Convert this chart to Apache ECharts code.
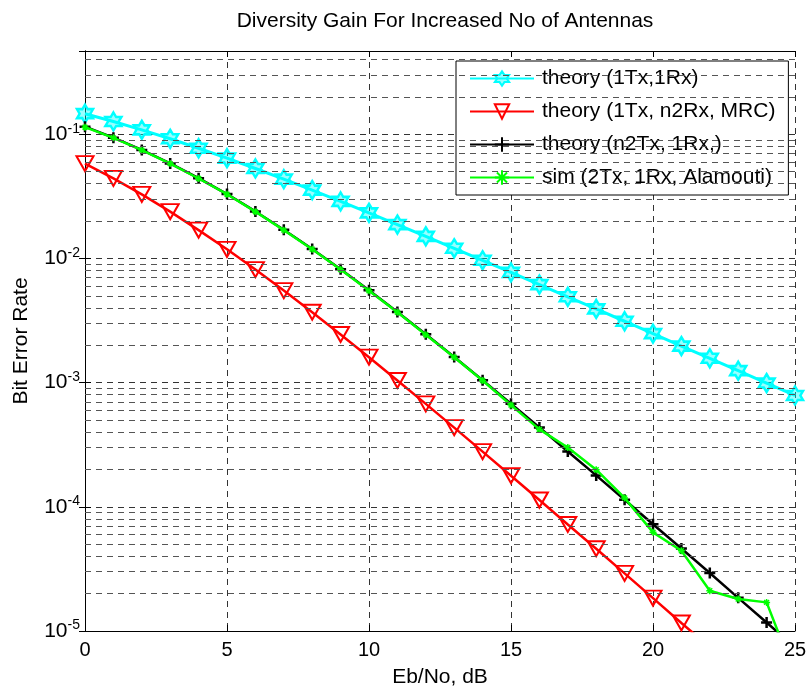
<!DOCTYPE html>
<html>
<head>
<meta charset="utf-8">
<script src="https://cdn.jsdelivr.net/npm/echarts@6/dist/echarts.min.js"></script>
<style>
  html, body { margin: 0; padding: 0; background: #fff; }
  #chart { width: 809px; height: 687px; }
</style>
</head>
<body>
<div id="chart"></div>
<script>
// Eb/No points, dB
const ebno = [0, 1, 2, 3, 4, 5, 6, 7, 8, 9, 10, 11, 12, 13, 14, 15, 16, 17, 18, 19, 20, 21, 22, 23, 24, 25]

// bit error rate
const berTheory1x1 = [0.1464, 0.1267, 0.1085, 0.0919, 0.0771, 0.0642, 0.0530, 0.0435, 0.0355, 0.0288,
  0.0233, 0.01874, 0.01506, 0.01207, 0.00966, 0.00772, 0.00616, 0.00491, 0.00392, 0.00312,
  0.00248, 0.00197, 0.00157, 0.001248, 0.000992, 0.000788]
const berMrc1x2 = [0.0580, 0.0441, 0.0328, 0.0238, 0.0169, 0.01184, 0.00813, 0.00551, 0.00369, 0.00244,
  0.001603, 0.00104, 0.000674, 0.000434, 0.000278, 0.000178, 0.0001134, 0.0000721, 0.000046, 0.0000291,
  0.0000184, 0.0000116, 0.0000074, 0.0000047, 0.000003, 0.0000019]
const berAlamoutiTheory = [0.1151, 0.0939, 0.0748, 0.0582, 0.0443, 0.0330, 0.0239, 0.0170, 0.0119, 0.00817,
  0.00554, 0.00371, 0.00245, 0.00161, 0.001045, 0.000677, 0.000436, 0.000279, 0.000179, 0.0001139,
  0.0000724, 0.0000462, 0.0000293, 0.0000185, 0.0000117, 0.0000074]
const berAlamoutiSim = [0.1140, 0.0935, 0.0745, 0.0580, 0.0440, 0.0329, 0.0238, 0.0169, 0.01185, 0.00815,
  0.00550, 0.00368, 0.00243, 0.00160, 0.00104, 0.00066, 0.00042, 0.00030, 0.000199, 0.000118,
  0.0000623, 0.0000443, 0.0000211, 0.0000181, 0.0000170, 0.0000044]

const seriesNames = ['theory (1Tx,1Rx)', 'theory (1Tx, n2Rx, MRC)', 'theory (n2Tx, 1Rx,)', 'sim (2Tx, 1Rx, Alamouti)']

const yMin = 1e-5
const yMax = 0.468

// minor grid at 2..9 of every decade
const minorGrid = []
for (let e = -5; e <= -1; e++) {
  for (let m = 2; m <= 9; m++) {
    const v = m * Math.pow(10, e)
    if (v < yMax) minorGrid.push(v)
  }
}

const FONT = 'Liberation Sans, Arial, Helvetica, sans-serif'

const hexagram = 'path://M0,-10 L2.887,-5 L8.66,-5 L5.774,0 L8.66,5 L2.887,5 L0,10 L-2.887,5 L-8.66,5 L-5.774,0 L-8.66,-5 L-2.887,-5 Z'
const triDown = 'path://M-10,-8 L10,-8 L0,9 Z'
const plus = 'path://M0,-10 L0,10 M-10,0 L10,0'
const star = 'path://M0,-10 L0,10 M-10,0 L10,0 M-7,-7 L7,7 M-7,7 L7,-7'

function pairs(ys) {
  return ebno.map((x, i) => [x, ys[i]])
}

function logLabel(v) {
  const e = Math.round(Math.log10(v))
  if (Math.abs(v - Math.pow(10, e)) / v > 1e-6) return ''
  return '{b|10}{s|' + e + '}'
}

const chart = echarts.init(document.getElementById('chart'))

const axisCommon = {
  axisLine: { lineStyle: { color: '#000', width: 1 } },
  axisTick: { inside: true, length: 6, lineStyle: { color: '#000' } }
}

chart.setOption({
  backgroundColor: '#fff',
  animation: false,
  title: {
    text: 'Diversity Gain For Increased No of Antennas',
    left: 440,
    top: 6,
    textAlign: 'center',
    textStyle: { fontFamily: FONT, fontSize: 21, fontWeight: 'normal', color: '#000' }
  },
  legend: {
    data: seriesNames,
    orient: 'vertical',
    left: 456,
    top: 61,
    padding: [7, 13, 7, 13],
    itemWidth: 64,
    itemHeight: 18,
    itemGap: 12,
    backgroundColor: '#fff',
    borderColor: '#000',
    borderWidth: 1,
    borderRadius: 0,
    textStyle: { fontFamily: FONT, fontSize: 21, color: '#000', padding: [0, 0, 0, 3] }
  },
  grid: { left: 85, right: 14, top: 51, bottom: 56, outerBoundsMode: 'none', containLabel: false },
  xAxis: [{
    type: 'value',
    min: 0,
    max: 25,
    interval: 5,
    name: 'Eb/No, dB',
    nameLocation: 'middle',
    nameGap: 36,
    nameTextStyle: { fontFamily: FONT, fontSize: 21, color: '#000' },
    axisLabel: { fontFamily: FONT, fontSize: 20, color: '#000', margin: 9 },
    splitLine: { show: true, lineStyle: { color: '#333', type: [6, 5], width: 1 } },
    ...axisCommon
  }, {
    type: 'value',
    position: 'top',
    min: 0,
    max: 25,
    interval: 5,
    axisLabel: { show: false },
    splitLine: { show: false },
    ...axisCommon
  }],
  yAxis: [{
    type: 'log',
    min: yMin,
    max: yMax,
    name: 'Bit Error Rate',
    nameLocation: 'middle',
    nameGap: 53,
    nameTextStyle: { fontFamily: FONT, fontSize: 21, color: '#000' },
    axisLabel: {
      formatter: logLabel,
      margin: 5,
      rich: {
        b: { fontFamily: FONT, fontSize: 21, color: '#000' },
        s: { fontFamily: FONT, fontSize: 14, color: '#000', padding: [0, 0, 11, 0] }
      }
    },
    splitLine: { show: true, lineStyle: { color: '#333', type: [6, 5], width: 1 } },
    ...axisCommon
  }, {
    type: 'log',
    position: 'right',
    min: yMin,
    max: yMax,
    axisLabel: { show: false },
    splitLine: { show: false },
    ...axisCommon
  }],
  series: [
    {
      // minor grid lines only
      type: 'line',
      data: [],
      silent: true,
      z: 1,
      markLine: {
        silent: true,
        symbol: 'none',
        precision: 10,
        label: { show: false },
        lineStyle: { color: '#555', type: [6, 5], width: 1 },
        data: minorGrid.map(v => ({ yAxis: v }))
      }
    },
    {
      name: seriesNames[0],
      type: 'line',
      z: 3,
      data: pairs(berTheory1x1),
      symbol: hexagram,
      symbolSize: [16, 18],
      lineStyle: { color: '#00ffff', width: 3 },
      itemStyle: { color: 'rgba(0,255,255,0.4)', borderColor: '#00ffff', borderWidth: 2.5 }
    },
    {
      name: seriesNames[1],
      type: 'line',
      z: 3,
      data: pairs(berMrc1x2),
      symbol: triDown,
      symbolSize: [17, 15],
      lineStyle: { color: '#ff0000', width: 2.5 },
      itemStyle: { color: 'transparent', borderColor: '#ff0000', borderWidth: 2 }
    },
    {
      name: seriesNames[2],
      type: 'line',
      z: 3,
      data: pairs(berAlamoutiTheory),
      symbol: plus,
      symbolSize: 11,
      lineStyle: { color: '#000', width: 2.5 },
      itemStyle: { color: 'transparent', borderColor: '#000', borderWidth: 2.5 }
    },
    {
      name: seriesNames[3],
      type: 'line',
      z: 4,
      data: pairs(berAlamoutiSim),
      symbol: star,
      symbolSize: 7,
      lineStyle: { color: '#00ff00', width: 2.5 },
      itemStyle: { color: 'transparent', borderColor: '#00ff00', borderWidth: 1.5 }
    }
  ]
})
</script>
</body>
</html>
